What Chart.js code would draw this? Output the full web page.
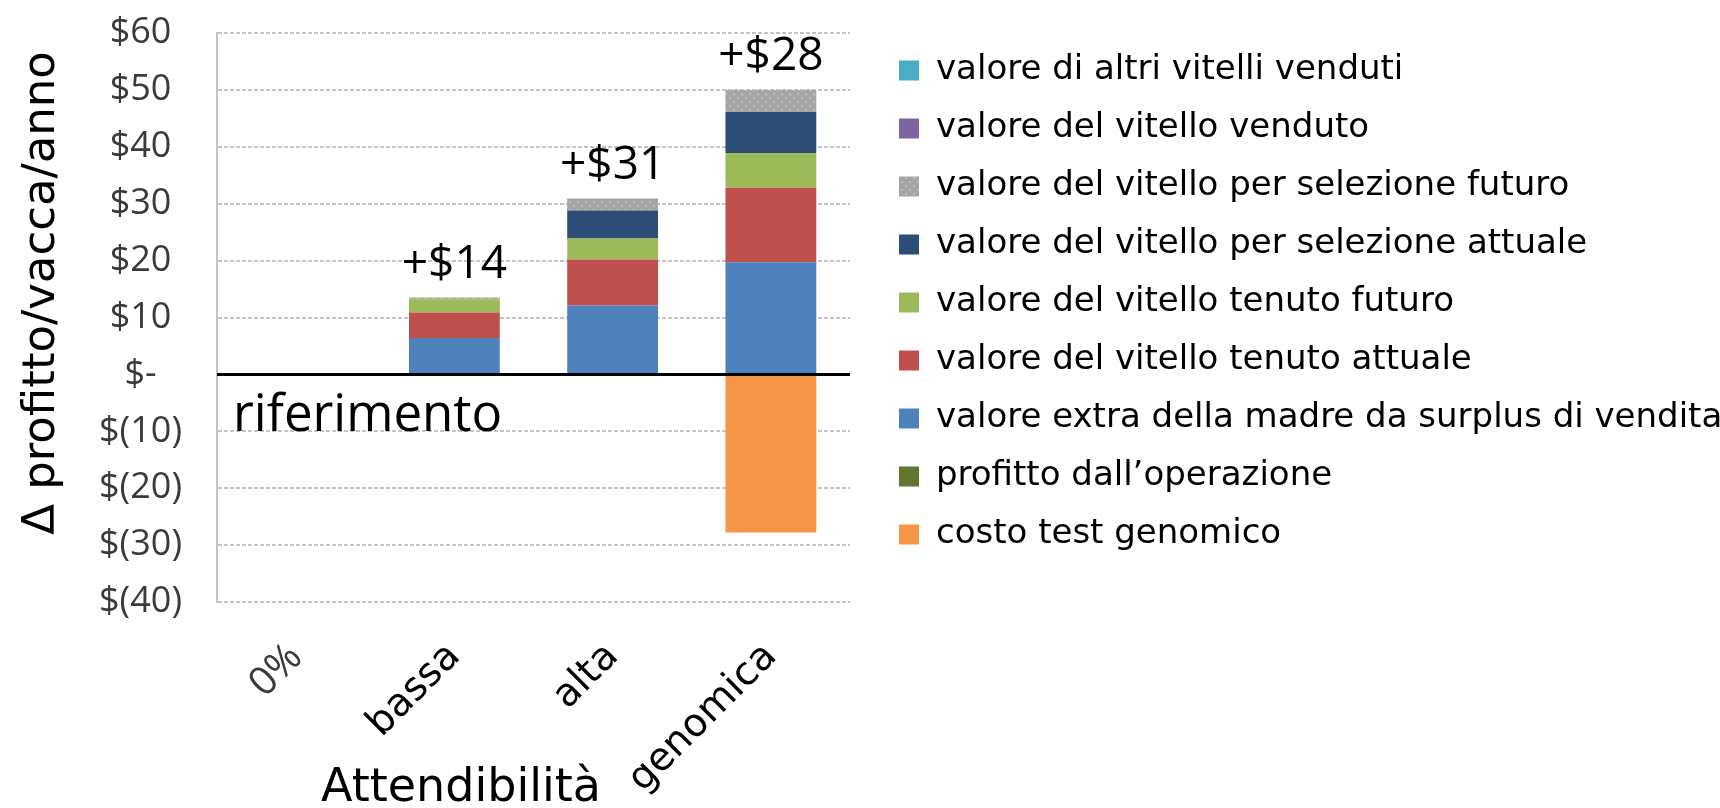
<!DOCTYPE html>
<html lang="it">
<head>
<meta charset="UTF-8">
<title>Attendibilità</title>
<script src="https://cdn.jsdelivr.net/npm/chart.js"></script>
<style>
  html, body { margin: 0; padding: 0; background: #fff; }
  canvas { display: block; }
</style>
</head>
<body>
<canvas id="chart" width="1720" height="808"></canvas>
<script>
// categories on the x axis
const categories = ['0%', 'bassa', 'alta', 'genomica'];

// series, bottom of the stack first
const costoTest = [0, 0, 0, -27.8];
const profittoOperazione = [0, 0, 0, 0];
const extraMadre = [0, 6.4, 12.1, 19.7];
const tenutoAttuale = [0, 4.5, 8.1, 13.1];
const tenutoFuturo = [0, 2.3, 3.7, 6.1];
const selezioneAttuale = [0, 0, 4.9, 7.2];
const selezioneFuturo = [0, 0.3, 2.1, 3.9];
const vitelloVenduto = [0, 0, 0, 0];
const altriVenduti = [0, 0, 0, 0];

// labels above the bars
const gainLabels = ['', '+$14', '+$31', '+$28'];

// y axis range
const yMin = -40, yMax = 60, yStep = 10;

const allSeries = [costoTest, profittoOperazione, extraMadre, tenutoAttuale, tenutoFuturo,
                   selezioneAttuale, selezioneFuturo, vitelloVenduto, altriVenduti];

function money(v) {
    if (v === 0) return '$-';
    if (v < 0) return '$(' + (-v) + ')';
    return '$' + v;
}

// grey fill with light dots, like the office pattern fill
function dotted(base, dot) {
    const c = document.createElement('canvas');
    c.width = 8; c.height = 8;
    const g = c.getContext('2d');
    g.fillStyle = base;
    g.fillRect(0, 0, 8, 8);
    g.fillStyle = dot;
    g.fillRect(1, 1, 2, 2);
    g.fillRect(5, 5, 2, 2);
    return g.createPattern(c, 'repeat');
}

const extraText = {
    id: 'extraText',
    afterDatasetsDraw(chart) {
        const { ctx, chartArea, scales: { x, y } } = chart;
        ctx.save();

        // reference line at zero, on top of the bars
        const y0 = y.getPixelForValue(0);
        ctx.strokeStyle = '#000';
        ctx.lineWidth = 3;
        ctx.beginPath();
        ctx.moveTo(chartArea.left, y0);
        ctx.lineTo(chartArea.right, y0);
        ctx.stroke();

        ctx.fillStyle = '#000';
        ctx.font = '46px "Open Sans"';
        ctx.textAlign = 'center';
        ctx.textBaseline = 'alphabetic';
        gainLabels.forEach((t, i) => {
            if (!t) return;
            const top = allSeries.reduce((s, arr) => s + Math.max(arr[i], 0), 0);
            ctx.fillText(t, x.getPixelForValue(i), y.getPixelForValue(top) - 20);
        });

        ctx.textAlign = 'left';
        ctx.font = '51px "Open Sans"';
        ctx.fillText('riferimento', chartArea.left + 16, y.getPixelForValue(-10));

        // axis titles
        ctx.textAlign = 'center';
        ctx.font = '46px "DejaVu Sans"';
        ctx.fillText('Attendibilità', 461, 801);

        ctx.translate(42, 293);
        ctx.rotate(-Math.PI / 2);
        ctx.textBaseline = 'middle';
        ctx.font = '45px "DejaVu Sans"';
        ctx.fillText('Δ profitto/vacca/anno', 0, 0);
        ctx.restore();
    }
};

new Chart(document.getElementById('chart'), {
    type: 'bar',
    data: {
        labels: categories,
        datasets: [
            { label: 'costo test genomico', data: costoTest, backgroundColor: '#f79646' },
            { label: 'profitto dall\u2019operazione', data: profittoOperazione, backgroundColor: '#5f7530' },
            { label: 'valore extra della madre da surplus di vendita', data: extraMadre, backgroundColor: '#4f81bd' },
            { label: 'valore del vitello tenuto attuale', data: tenutoAttuale, backgroundColor: '#c0504d' },
            { label: 'valore del vitello tenuto futuro', data: tenutoFuturo, backgroundColor: '#9bbb59' },
            { label: 'valore del vitello per selezione attuale', data: selezioneAttuale, backgroundColor: '#2c4d75' },
            { label: 'valore del vitello per selezione futuro', data: selezioneFuturo, backgroundColor: dotted('#a5a5a5', '#bcbcbc') },
            { label: 'valore del vitello venduto', data: vitelloVenduto, backgroundColor: '#8064a2' },
            { label: 'valore di altri vitelli venduti', data: altriVenduti, backgroundColor: '#4bacc6' }
        ]
    },
    options: {
        responsive: false,
        animation: false,
        categoryPercentage: 1,
        barPercentage: 0.574,
        layout: { padding: { top: 29.5, left: 0, right: 0, bottom: 0 } },
        plugins: {
            tooltip: { enabled: false },
            legend: {
                position: 'right',
                align: 'start',
                reverse: true,
                maxWidth: 845,
                labels: {
                    boxWidth: 20,
                    boxHeight: 20,
                    padding: 24,
                    color: '#000',
                    font: { family: 'DejaVu Sans', size: 34 }
                }
            }
        },
        scales: {
            x: {
                stacked: true,
                grid: { display: false },
                border: { display: false },
                ticks: {
                    autoSkip: false,
                    minRotation: 45,
                    maxRotation: 45,
                    padding: 24,
                    color: (c) => c.index === 0 ? '#3a3a3a' : '#000',
                    font: (c) => c.index === 0 ? { family: 'Open Sans', size: 40 } : { family: 'DejaVu Sans', size: 39 }
                },
                afterFit: (s) => { s.height = 206; s.paddingLeft = 0; s.paddingRight = 0; }
            },
            gapTop: {
                type: 'linear',
                position: 'top',
                grid: { display: false },
                border: { display: false },
                ticks: { display: false },
                afterFit: (s) => { s.height = 3.5; }
            },
            y: {
                stacked: true,
                min: yMin,
                max: yMax,
                ticks: {
                    stepSize: yStep,
                    crossAlign: 'center',
                    padding: 35,
                    color: '#3a3a3a',
                    font: { family: 'Open Sans', size: 36 },
                    callback: (v) => money(v)
                },
                grid: { color: '#c4c4c4', lineWidth: 2, drawTicks: false },
                border: { display: true, color: '#c4c4c4', width: 2, dash: [4, 2] },
                afterFit: (s) => { s.width = 217; s.paddingTop = 0; s.paddingBottom = 0; }
            },
            gapRight: {
                type: 'linear',
                position: 'right',
                grid: { display: false },
                border: { display: false },
                ticks: { display: false },
                afterFit: (s) => { s.width = 25; }
            }
        }
    },
    plugins: [extraText]
});
</script>
</body>
</html>
